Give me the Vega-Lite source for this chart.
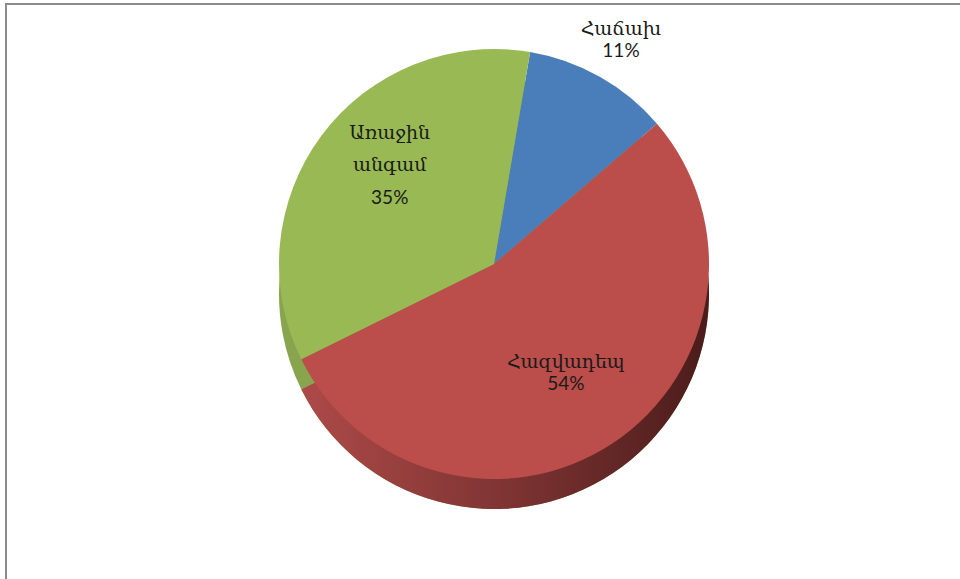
{
  "$schema": "https://vega.github.io/schema/vega-lite/v6.json",
  "width": 1000,
  "height": 600,
  "autosize": {"type": "none"},
  "padding": {"left": 6, "top": 4, "right": 0, "bottom": 0},
  "background": "white",
  "view": {"stroke": "#8c8c8c", "strokeWidth": 2, "fill": "white"},
  "data": {
    "values": [
      {"category": "Հաճախ", "share": 0.11, "order": 1},
      {"category": "Հազվադեպ", "share": 0.54, "order": 2},
      {"category": "Առաջին\nանգամ", "share": 0.35, "order": 3}
    ]
  },
  "encoding": {
    "theta": {
      "field": "share",
      "type": "quantitative",
      "stack": true,
      "scale": {"range": [0.169, 6.452]}
    },
    "detail": {"field": "category"},
    "order": {"field": "order", "type": "ordinal"}
  },
  "layer": [
    {
      "mark": {"type": "arc", "radius": 215, "yOffset": -10, "xOffset": -12, "fill": "#88a44d"}
    },
    {
      "mark": {
        "type": "arc",
        "radius": 215,
        "yOffset": -10,
        "xOffset": -12,
        "fill": {
          "gradient": "linear",
          "x1": 0, "y1": 0, "x2": 1, "y2": 0,
          "stops": [
            {"offset": 0, "color": "#ad4a48"},
            {"offset": 0.5, "color": "#7e3433"},
            {"offset": 1, "color": "#4a1c1b"}
          ]
        }
      },
      "encoding": {
        "fillOpacity": {"condition": {"test": "datum.order === 2", "value": 1}, "value": 0}
      }
    },
    {
      "mark": {"type": "arc", "radius": 215, "yOffset": -40, "xOffset": -12},
      "encoding": {
        "color": {
          "field": "category",
          "type": "nominal",
          "scale": {
            "domain": ["Հաճախ", "Հազվադեպ", "Առաջին\nանգամ"],
            "range": ["#4a7ebb", "#bb4d4a", "#98b954"]
          },
          "legend": null
        }
      }
    },
    {
      "mark": {"type": "text", "radius": 258, "yOffset": -40, "xOffset": -12, "baseline": "bottom", "font": "DejaVu Serif", "fontSize": 19, "color": "#1a1a1a"},
      "encoding": {
        "text": {"condition": {"test": "datum.order === 1", "field": "category"}, "value": ""}
      }
    },
    {
      "mark": {"type": "text", "radius": 258, "yOffset": -40, "xOffset": -12, "baseline": "top", "dy": 3, "font": "Lato", "fontSize": 19, "color": "#1a1a1a"},
      "encoding": {
        "text": {"condition": {"test": "datum.order === 1", "field": "share", "type": "quantitative", "format": ".0%"}, "value": ""}
      }
    },
    {
      "mark": {"type": "text", "radius": 130, "yOffset": -40, "xOffset": -12, "baseline": "bottom", "font": "DejaVu Serif", "fontSize": 19, "color": "#1a1a1a"},
      "encoding": {
        "text": {"condition": {"test": "datum.order === 2", "field": "category"}, "value": ""}
      }
    },
    {
      "mark": {"type": "text", "radius": 130, "yOffset": -40, "xOffset": -12, "baseline": "top", "dy": -62, "font": "DejaVu Serif", "fontSize": 19, "color": "#1a1a1a", "lineBreak": "\n", "lineHeight": 32},
      "encoding": {
        "text": {"condition": {"test": "datum.order === 3", "field": "category"}, "value": ""}
      }
    },
    {
      "mark": {"type": "text", "radius": 130, "yOffset": -40, "xOffset": -12, "baseline": "top", "dy": 3, "font": "Lato", "fontSize": 19, "color": "#1a1a1a"},
      "encoding": {
        "text": {"condition": {"test": "datum.order !== 1", "field": "share", "type": "quantitative", "format": ".0%"}, "value": ""}
      }
    }
  ]
}
